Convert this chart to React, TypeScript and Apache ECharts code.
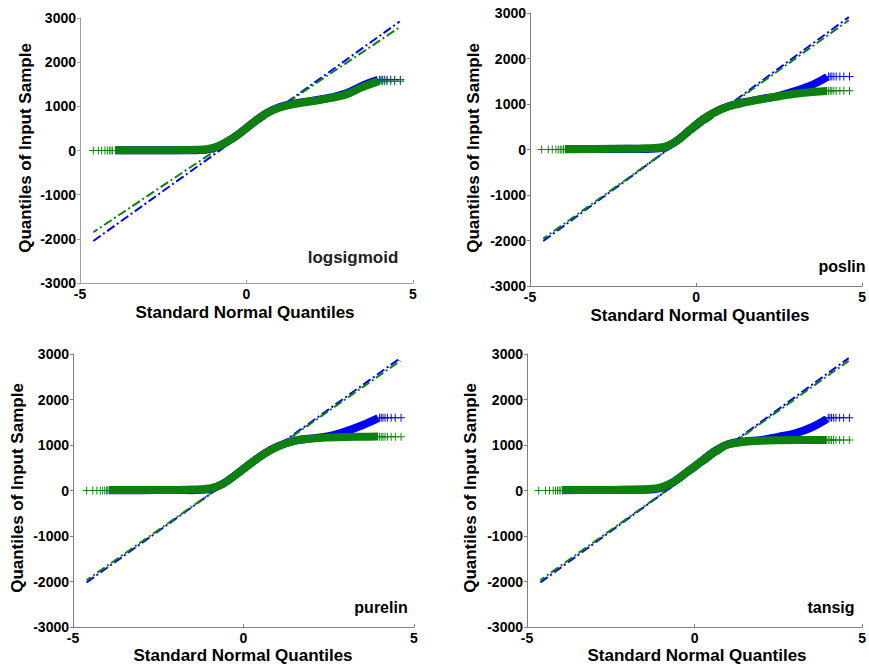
import React, { useEffect, useRef } from "react";
import * as echarts from "echarts";

const panelNames = ["logsigmoid", "poslin", "purelin", "tansig"];
const xTicks = [-5, 0, 5];
const yTicks = [-3000, -2000, -1000, 0, 1000, 2000, 3000];

// dense part of each Q-Q band (x = standard normal quantile)
const bandX = [-3.95, -3, -2, -1.5, -1, -0.6, -0.2, 0.2, 0.6, 1.0, 1.5, 2.0, 2.5, 3.0, 3.5, 3.95];

const logsigGreen = [5, 5, 8, 15, 60, 190, 390, 630, 840, 975, 1060, 1120, 1185, 1270, 1440, 1565];
const logsigBlue = [3, 3, 5, 5, 50, 190, 390, 630, 845, 985, 1070, 1130, 1195, 1295, 1475, 1600];
const poslinGreen = [10, 12, 18, 25, 50, 180, 420, 660, 830, 950, 1040, 1110, 1170, 1225, 1265, 1285];
const poslinBlue = [8, 10, 14, 12, 35, 180, 420, 660, 835, 955, 1045, 1115, 1180, 1290, 1420, 1595];
const purelinGreen = [10, 10, 12, 20, 45, 150, 360, 590, 800, 965, 1090, 1140, 1165, 1178, 1182, 1185];
const purelinBlue = [8, 8, 9, 8, 30, 150, 360, 590, 805, 970, 1095, 1145, 1195, 1300, 1440, 1590];
const tansigGreen = [10, 12, 18, 30, 70, 200, 420, 640, 860, 1010, 1070, 1095, 1105, 1110, 1110, 1110];
const tansigBlue = [8, 10, 14, 15, 55, 200, 420, 640, 865, 1015, 1080, 1110, 1180, 1255, 1390, 1575];

const greenBands = [logsigGreen, poslinGreen, purelinGreen, tansigGreen];
const blueBands = [logsigBlue, poslinBlue, purelinBlue, tansigBlue];

// sparse tail points
const leftTailX = [
  [-4.6, -4.45, -4.35, -4.25, -4.18, -4.12, -4.07, -4.02],
  [-4.65, -4.45, -4.33, -4.22, -4.15, -4.09, -4.04, -3.99],
  [-4.6, -4.42, -4.3, -4.2, -4.13, -4.07, -4.02, -3.98],
  [-4.65, -4.45, -4.33, -4.22, -4.15, -4.09, -4.04, -3.99],
];
const leftTailY = [0, 0, 0, 0];
const rightTailX = [3.99, 4.04, 4.09, 4.15, 4.22, 4.33, 4.45, 4.62];
const rightTailBlueY = [1600, 1605, 1600, 1600];
const rightTailGreenY = [1570, 1290, 1183, 1110];

// reference (dash-dot) lines: [x1, y1, x2, y2]
const refBlue = [
  [-4.6, -2050, 4.6, 2920],
  [-4.6, -2010, 4.6, 2910],
  [-4.6, -2020, 4.6, 2910],
  [-4.6, -2020, 4.6, 2910],
];
const refGreen = [
  [-4.6, -1850, 4.6, 2790],
  [-4.6, -1960, 4.6, 2840],
  [-4.6, -1970, 4.6, 2850],
  [-4.6, -1970, 4.6, 2850],
];

const BLUE = "#0000ff";
const GREEN = "#0d800d";
const FONT = "Liberation Sans";
const PLUS = "path://M0,4.4H10V5.6H0Z M4.4,0H5.6V10H4.4Z";

const grids = [
  { left: 80, top: 18, width: 333, height: 265 },
  { left: 530, top: 13, width: 341, height: 273 },
  { left: 73, top: 354, width: 341, height: 273 },
  { left: 527, top: 354, width: 341, height: 273 },
];
const xTitlePos = [
  [245, 312],
  [700, 315],
  [243, 655],
  [697, 655],
];
const yTitlePos = [
  [25, 148],
  [473, 148],
  [17, 488],
  [470, 488],
];
const namePos = [
  [353, 257],
  [842, 266],
  [381, 607],
  [831, 607],
];

export default function App() {
  const ref = useRef<HTMLDivElement>(null);
  useEffect(() => {
    if (!ref.current) return;
    const chart = echarts.init(ref.current, null, { renderer: "svg" });
    const xAxis: any[] = [];
    const yAxis: any[] = [];
    const series: any[] = [];
    const graphic: any[] = [];
    const labelStyle = {
      color: "#000",
      fontWeight: "bold",
      fontSize: 14,
      fontFamily: FONT,
      margin: 4,
      formatter: (v: number) => String(v),
    };
    grids.forEach((g, i) => {
      const axisColor = i === 0 ? "#a0a0a0" : "#808080";
      xAxis.push({
        type: "value",
        gridIndex: i,
        min: xTicks[0],
        max: xTicks[xTicks.length - 1],
        interval: 5,
        axisLine: { show: true, onZero: false, lineStyle: { color: axisColor, width: 1 } },
        axisTick: { show: true, inside: true, length: 3, lineStyle: { color: axisColor } },
        splitLine: { show: false },
        axisLabel: labelStyle,
      });
      yAxis.push({
        type: "value",
        gridIndex: i,
        min: yTicks[0],
        max: yTicks[yTicks.length - 1],
        interval: 1000,
        axisLine: { show: true, onZero: false, lineStyle: { color: axisColor, width: 1 } },
        axisTick: { show: true, inside: false, length: 3, lineStyle: { color: axisColor } },
        splitLine: { show: false },
        axisLabel: labelStyle,
      });
      const dash = [9, 3, 2, 3];
      series.push({
        type: "line",
        xAxisIndex: i,
        yAxisIndex: i,
        data: [
          [refBlue[i][0], refBlue[i][1]],
          [refBlue[i][2], refBlue[i][3]],
        ],
        showSymbol: false,
        lineStyle: { color: BLUE, width: 2, type: dash },
        z: 2,
      });
      series.push({
        type: "line",
        xAxisIndex: i,
        yAxisIndex: i,
        data: [
          [refGreen[i][0], refGreen[i][1]],
          [refGreen[i][2], refGreen[i][3]],
        ],
        showSymbol: false,
        lineStyle: { color: GREEN, width: 2, type: dash, dashOffset: 4 },
        z: 2,
      });
      series.push({
        type: "line",
        xAxisIndex: i,
        yAxisIndex: i,
        data: bandX.map((x, k) => [x, blueBands[i][k]]),
        smooth: 0.4,
        showSymbol: false,
        lineStyle: { color: BLUE, width: 8 },
        z: 3,
      });
      series.push({
        type: "scatter",
        xAxisIndex: i,
        yAxisIndex: i,
        data: rightTailX.map((x) => [x, rightTailBlueY[i]]),
        symbol: PLUS,
        symbolSize: 8,
        itemStyle: { color: BLUE, opacity: 1 },
        z: 3,
      });
      series.push({
        type: "line",
        xAxisIndex: i,
        yAxisIndex: i,
        data: bandX.map((x, k) => [x, greenBands[i][k]]),
        smooth: 0.4,
        showSymbol: false,
        lineStyle: { color: GREEN, width: 8 },
        z: 4,
      });
      series.push({
        type: "scatter",
        xAxisIndex: i,
        yAxisIndex: i,
        data: rightTailX
          .map((x) => [x, rightTailGreenY[i]])
          .concat(leftTailX[i].map((x) => [x, leftTailY[i]])),
        symbol: PLUS,
        symbolSize: 8,
        itemStyle: { color: GREEN, opacity: 1 },
        z: 4,
      });
      graphic.push({
        type: "text",
        x: xTitlePos[i][0],
        y: xTitlePos[i][1],
        style: {
          text: "Standard Normal Quantiles",
          font: `bold 17px "${FONT}"`,
          fill: "#000",
          align: "center",
          verticalAlign: "middle",
        },
      });
      graphic.push({
        type: "text",
        x: yTitlePos[i][0],
        y: yTitlePos[i][1],
        rotation: Math.PI / 2,
        style: {
          text: "Quantiles of Input Sample",
          font: `bold 17px "${FONT}"`,
          fill: "#000",
          align: "center",
          verticalAlign: "middle",
        },
      });
      graphic.push({
        type: "text",
        x: namePos[i][0],
        y: namePos[i][1],
        style: {
          text: panelNames[i],
          font: `bold ${i === 0 ? 17 : 16}px "${FONT}"`,
          fill: i === 0 ? "#222" : "#000",
          align: "center",
          verticalAlign: "middle",
        },
      });
    });
    chart.setOption({
      animation: false,
      backgroundColor: "#ffffff",
      grid: grids.map((g) => ({ ...g, containLabel: false })),
      xAxis,
      yAxis,
      series,
      graphic,
    });
    return () => chart.dispose();
  }, []);
  return (
    <div
      ref={ref}
      style={{ position: "fixed", left: 0, top: 0, width: 869, height: 670, background: "#fff" }}
    />
  );
}
